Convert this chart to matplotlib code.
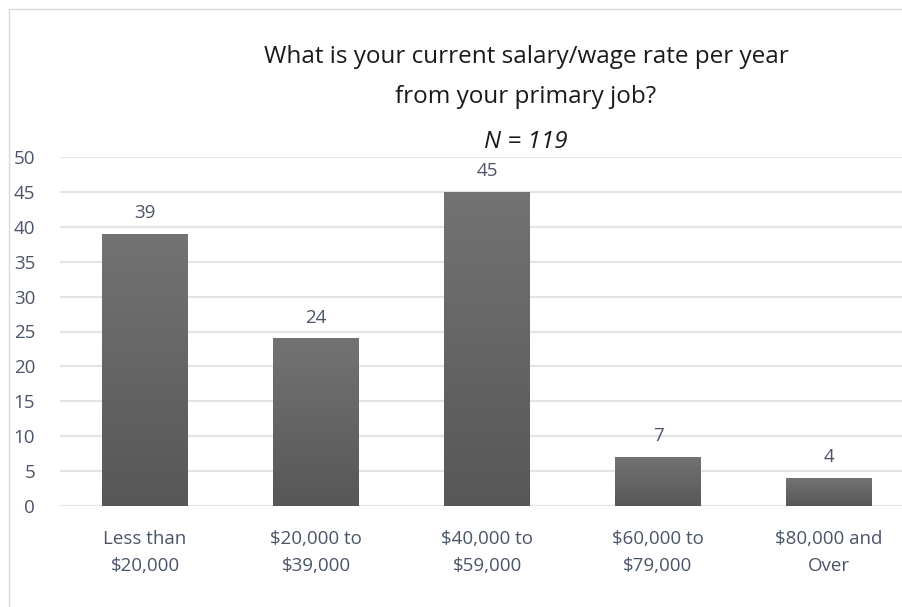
import matplotlib
matplotlib.use("Agg")
import matplotlib.pyplot as plt
import numpy as np
from matplotlib.patches import Rectangle
from matplotlib.colors import LinearSegmentedColormap

categories = ["Less than\n$20,000", "$20,000 to\n$39,000", "$40,000 to\n$59,000",
              "$60,000 to\n$79,000", "$80,000 and\nOver"]
values = [39, 24, 45, 7, 4]
yticks = [0, 5, 10, 15, 20, 25, 30, 35, 40, 45, 50]

plt.rcParams['font.family'] = ['Open Sans', 'DejaVu Sans']
W, H = 902, 607
fig = plt.figure(figsize=(W/100, H/100), dpi=100)
fig.patch.set_facecolor('white')

# chart border
fig.patches.append(Rectangle((8.5/W, -0.1), 1.2, (H-8.5)/H + 0.1, transform=fig.transFigure,
                             fill=False, edgecolor='#d9d9d9', linewidth=1.0))

ax = fig.add_axes([59.5/W, 101/H, 855/W, 349/H])
ax.set_xlim(-0.5, 4.5)
ax.set_ylim(0, 50)
for s in ax.spines.values():
    s.set_visible(False)
ax.set_yticks(yticks)
ax.yaxis.grid(True, color='#e1e4e9', linewidth=1.6)
ax.set_axisbelow(True)
txtc = '#4a5568'
ax.tick_params(axis='y', length=0, pad=17.5, labelsize=13.5, labelcolor=txtc)
ax.tick_params(axis='x', length=0, pad=17, labelsize=13.5, labelcolor=txtc)
ax.set_xticks(range(len(categories)))
ax.set_xticklabels(categories, linespacing=1.7)

grad = np.linspace(0, 1, 256).reshape(-1, 1)
cmap = LinearSegmentedColormap.from_list('g', ['#575757', '#737373'])
bw = 0.5
for i, v in enumerate(values):
    bars = ax.bar(i, v, width=bw, color='none', edgecolor='none', zorder=2)
    im = ax.imshow(grad, cmap=cmap, aspect='auto', origin='lower',
                   extent=(i - bw/2, i + bw/2, 0, v), zorder=2)
    im.set_clip_path(bars[0])
    ax.text(i, v + 3.0, str(v), ha='center', va='center', fontsize=13.5, color=txtc)
ax.set_xlim(-0.5, 4.5)
ax.set_ylim(0, 50)

fig.text(526/W, 1 - 57/H, "What is your current salary/wage rate per year",
         ha='center', va='center', fontsize=17.5, color='#1a1a1a')
fig.text(526/W, 1 - 97/H, "from your primary job?",
         ha='center', va='center', fontsize=17.5, color='#1a1a1a')
fig.text(526/W, 1 - 142/H, "N = 119", ha='center', va='center', fontsize=17.5,
         style='italic', color='#1a1a1a')

fig.savefig("out.png", dpi=100)
